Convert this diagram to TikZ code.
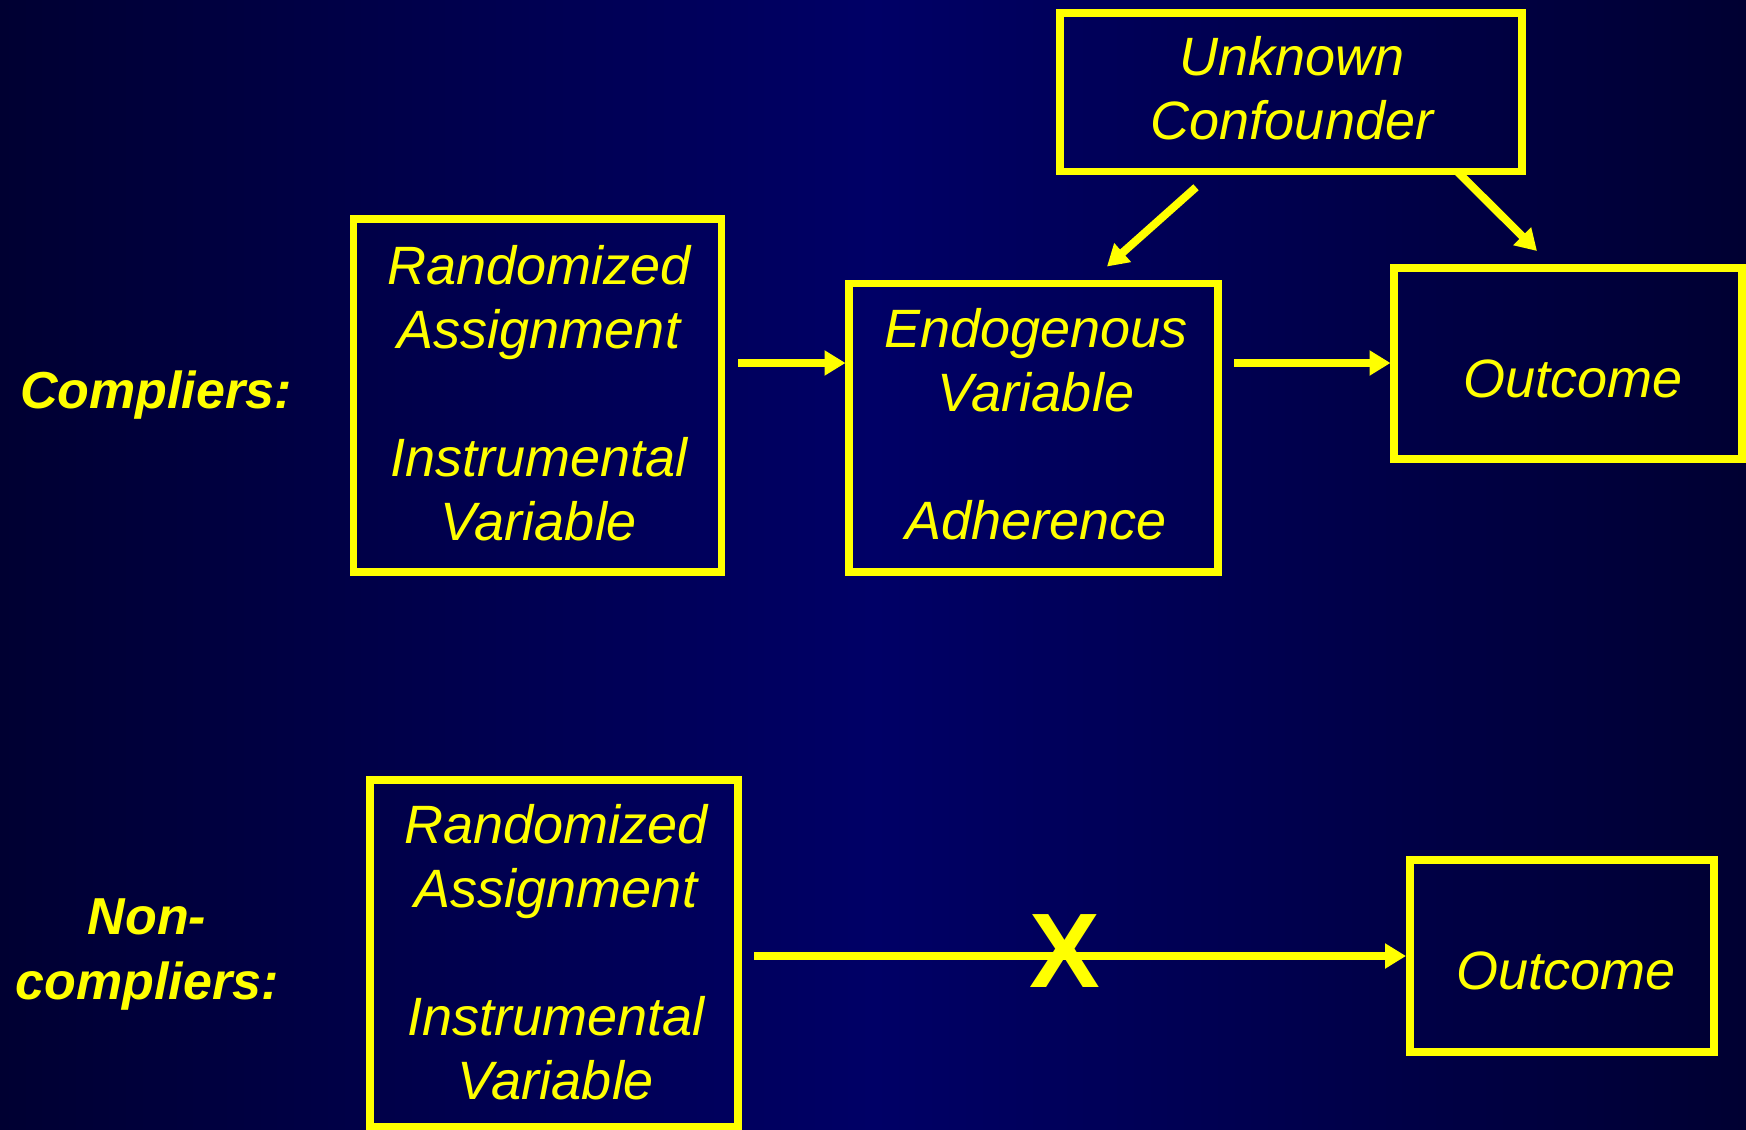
\documentclass[tikz,border=0pt]{standalone}
\usepackage{fontspec}
\setmainfont{Liberation Sans}
\usetikzlibrary{arrows.meta}

\definecolor{bgedge}{RGB}{0,0,50}
\definecolor{bgmid}{RGB}{0,0,102}
\definecolor{hilite}{RGB}{255,255,0}

\tikzset{
  box/.style={draw=hilite, line width=7.5pt, rectangle, inner sep=0pt, outer sep=0pt},
  boxtext/.style={text=hilite, align=center, inner sep=0pt,
    font=\fontsize{54}{64}\selectfont\itshape},
  grouplabel/.style={text=hilite, align=center, inner sep=0pt,
    font=\fontsize{52}{65}\selectfont\bfseries\itshape},
  arr/.style={draw=hilite, line width=8pt,
    -{Triangle[length=21pt,width=24pt]}},
}

\begin{document}
\begin{tikzpicture}[x=1pt, y=-1pt]
  \useasboundingbox (0,0) rectangle (1746,1130);
  \shade[left color=bgedge, right color=bgedge, middle color=bgmid]
    (0,0) rectangle (1746,1130);

  % boxes
  \node[box, minimum width=462pt, minimum height=158.5pt] (conf) at (1291,92) {};
  \node[box, minimum width=368pt, minimum height=353pt] (rand1) at (537.5,395.5) {};
  \node[box, minimum width=369pt, minimum height=288.5pt] (endo) at (1033.5,427.75) {};
  \node[box, minimum width=348pt, minimum height=191pt] (out1)  at (1568,363.5) {};
  \node[box, minimum width=368pt, minimum height=347pt] (rand2) at (554,953.5) {};
  \node[box, minimum width=304pt, minimum height=192pt] (out2)  at (1562,956) {};

  % box texts
  \node[boxtext] (conftxt) at (1292,88.5) {Unknown\\Confounder};
  \node[boxtext] (rand1txt) at (539,393) {Randomized\\Assignment\\[64pt]Instrumental\\Variable};
  \node[boxtext] (endotxt) at (1036,424.5) {Endogenous\\Variable\\[64pt]Adherence};
  \node[boxtext, anchor=base] (out1txt) at (1573,397) {Outcome};
  \node[boxtext] (rand2txt) at (556,952.5) {Randomized\\Assignment\\[64pt]Instrumental\\Variable};
  \node[boxtext, anchor=base] (out2txt) at (1566,989) {Outcome};

  % group labels
  \node[grouplabel, anchor=base west] (comp) at (20,408) {Compliers:};
  \node[grouplabel] (noncomp) at (147,954.5) {Non-\\compliers:};

  % connectors
  \coordinate (a1s) at ([xshift=16.5pt,yshift=32.5pt]rand1.east);
  \draw[arr, shorten >=3.5pt] (a1s) -- (a1s -| endo.west);

  \coordinate (a2s) at ([xshift=16pt,yshift=64.75pt]endo.east);
  \draw[arr, shorten >=3.5pt] (a2s) -- (a2s -| out1.west);

  \draw[arr] ([xshift=-95pt,yshift=-16pt]conf.south) -- ([xshift=73.5pt,yshift=17pt]endo.north);
  \draw[arr] ([xshift=166pt]conf.south) -- ([xshift=-31pt,yshift=17pt]out1.north);

  \coordinate (b1s) at ([xshift=16pt,yshift=-2.5pt]rand2.east);
  \draw[arr, shorten >=4pt] (b1s) -- (b1s -| out2.west);

  % blocked path mark
  \node[text=hilite, inner sep=0pt, font=\fontsize{106}{106}\selectfont\bfseries] (blocked) at (1065,951) {X};
\end{tikzpicture}
\end{document}
